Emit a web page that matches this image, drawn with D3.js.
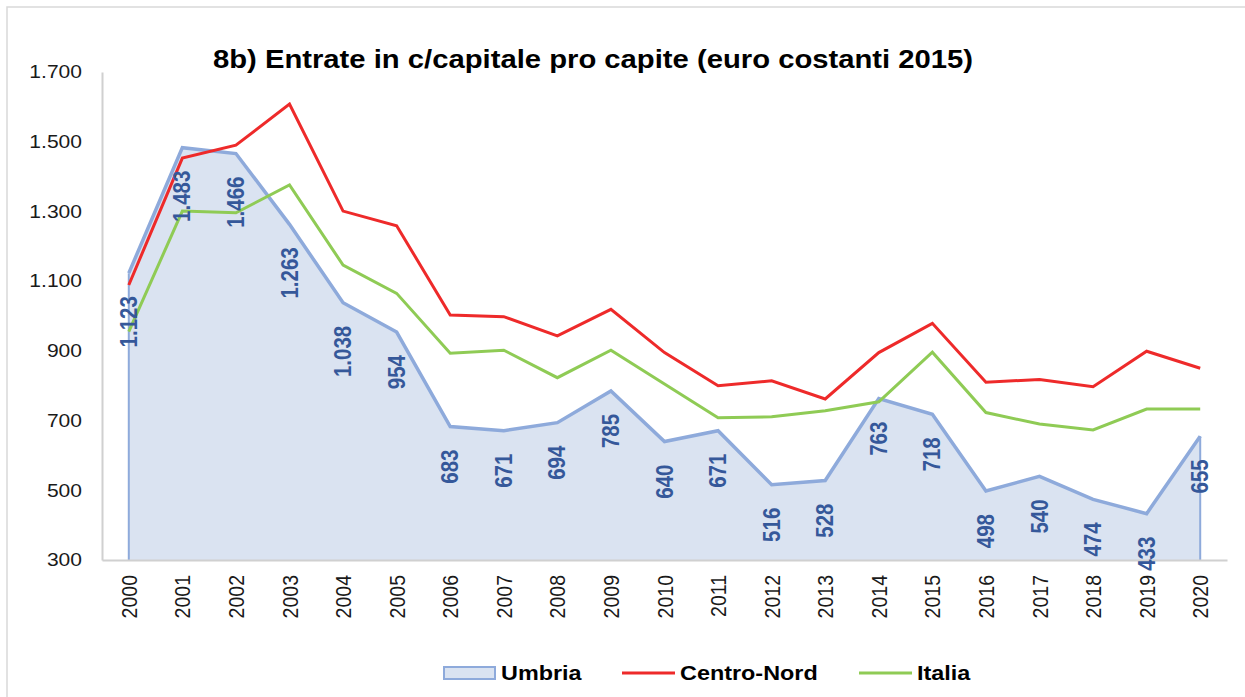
<!DOCTYPE html>
<html>
<head>
<meta charset="utf-8">
<script src="https://cdn.jsdelivr.net/npm/d3@7"></script>
<style>
  body { margin: 0; background: #fff; }
  svg { display: block; font-family: "Liberation Sans", Arial, sans-serif; }
</style>
</head>
<body>
<div id="chart"></div>
<script>
// Data
const years = ["2000","2001","2002","2003","2004","2005","2006","2007","2008","2009","2010",
               "2011","2012","2013","2014","2015","2016","2017","2018","2019","2020"];
const umbria = [1123,1483,1466,1263,1038,954,683,671,694,785,640,671,516,528,763,718,498,540,474,433,655];
const centroNord = [1089,1453,1490,1608,1301,1259,1003,998,943,1019,895,800,814,762,895,979,810,818,797,899,850];
const italia = [955,1301,1296,1376,1146,1065,893,902,823,902,805,708,711,728,754,896,723,690,673,733,733];
const yTicks = [300,500,700,900,1100,1300,1500,1700];

const width = 1245, height = 697;
const margin = { left: 102, right: 18, top: 72, bottom: 137 };
const stretch = 1.17; // text in the original is a bit wide

const svg = d3.select("#chart").append("svg")
    .attr("width", width)
    .attr("height", height);

// outer chart frame (only top/left visible)
svg.append("rect")
    .attr("x", 7).attr("y", 7)
    .attr("width", width + 20).attr("height", height + 20)
    .attr("fill", "none")
    .attr("stroke", "#d9d9d9")
    .attr("stroke-width", 1.5);

const x = d3.scaleBand()
    .domain(years)
    .range([margin.left, width - margin.right]);

const y = d3.scaleLinear()
    .domain([300, 1700])
    .range([height - margin.bottom, margin.top]);

const cx = d => x(d) + x.bandwidth() / 2;

// Umbria area
const area = d3.area()
    .x((d, i) => cx(years[i]))
    .y0(y(300))
    .y1(d => y(d));

svg.append("path")
    .datum(umbria)
    .attr("d", area)
    .attr("fill", "#dae3f1");

svg.append("path")
    .datum(umbria)
    .attr("d", d3.line().x((d, i) => cx(years[i])).y(d => y(d)))
    .attr("fill", "none")
    .attr("stroke", "#8eaadb")
    .attr("stroke-width", 3.5);

// vertical edges of the area
[0, umbria.length - 1].forEach(i => {
    svg.append("line")
        .attr("x1", cx(years[i])).attr("x2", cx(years[i]))
        .attr("y1", y(umbria[i])).attr("y2", y(300))
        .attr("stroke", "#8eaadb")
        .attr("stroke-width", 2);
});

// axes
const yAxis = svg.append("g")
    .attr("transform", `translate(${margin.left},0)`)
    .call(d3.axisLeft(y).tickValues(yTicks).tickSize(0).tickPadding(20)
        .tickFormat(d => d3.format(",")(d).replace(",", ".")));
yAxis.select(".domain").attr("stroke", "#d0d0d0").attr("stroke-width", 2);
yAxis.selectAll("text")
    .attr("font-size", 18)
    .attr("fill", "#1a1a1a")
    .attr("font-family", "Liberation Sans, Arial, sans-serif")
    .each(function() {
        const t = d3.select(this);
        t.attr("transform", `translate(-20,0) scale(${stretch},1)`).attr("x", 0);
    });

const xAxis = svg.append("g")
    .attr("transform", `translate(0,${y(300)})`)
    .call(d3.axisBottom(x).tickSize(0).tickPadding(0));
xAxis.select(".domain").attr("stroke", "#d0d0d0").attr("stroke-width", 2);
xAxis.selectAll("text")
    .attr("font-size", 19.5)
    .attr("fill", "#1a1a1a")
    .attr("font-family", "Liberation Sans, Arial, sans-serif")
    .attr("text-anchor", "end")
    .attr("dominant-baseline", "central")
    .attr("x", 0).attr("y", 0).attr("dy", null)
    .attr("transform", `translate(0,15) rotate(-90) scale(1,${stretch})`);

// lines
const line = d3.line()
    .x((d, i) => cx(years[i]))
    .y(d => y(d));

svg.append("path")
    .datum(italia)
    .attr("d", line)
    .attr("fill", "none")
    .attr("stroke", "#8fcb55")
    .attr("stroke-width", 3);

svg.append("path")
    .datum(centroNord)
    .attr("d", line)
    .attr("fill", "none")
    .attr("stroke", "#ee2a2a")
    .attr("stroke-width", 3);

// data labels for Umbria
svg.append("g").selectAll("text")
    .data(umbria)
    .enter()
    .append("text")
    .attr("transform", (d, i) => `translate(${cx(years[i])},${y(d) + 23}) rotate(-90) scale(1,${stretch})`)
    .attr("text-anchor", "end")
    .attr("dominant-baseline", "central")
    .attr("font-size", 20.5)
    .attr("font-weight", "bold")
    .attr("fill", "#35589a")
    .text(d => d3.format(",")(d).replace(",", "."));

// title
svg.append("text")
    .attr("transform", `translate(593,68) scale(${stretch},1)`)
    .attr("text-anchor", "middle")
    .attr("font-size", 25)
    .attr("font-weight", "bold")
    .attr("fill", "#000")
    .text("8b) Entrate in c/capitale pro capite (euro costanti 2015)");

// legend
const legend = svg.append("g");
legend.append("rect")
    .attr("x", 444).attr("y", 667).attr("width", 51).attr("height", 12)
    .attr("fill", "#dae3f1").attr("stroke", "#8eaadb").attr("stroke-width", 2);
legend.append("line")
    .attr("x1", 622).attr("x2", 675).attr("y1", 673).attr("y2", 673)
    .attr("stroke", "#ee2a2a").attr("stroke-width", 3);
legend.append("line")
    .attr("x1", 859).attr("x2", 912).attr("y1", 673).attr("y2", 673)
    .attr("stroke", "#8fcb55").attr("stroke-width", 3);
[["Umbria", 501], ["Centro-Nord", 680], ["Italia", 917]].forEach(([label, lx]) => {
    legend.append("text")
        .attr("transform", `translate(${lx},680) scale(${stretch},1)`)
        .attr("font-size", 20)
        .attr("font-weight", "bold")
        .attr("fill", "#000")
        .text(label);
});
</script>
</body>
</html>
